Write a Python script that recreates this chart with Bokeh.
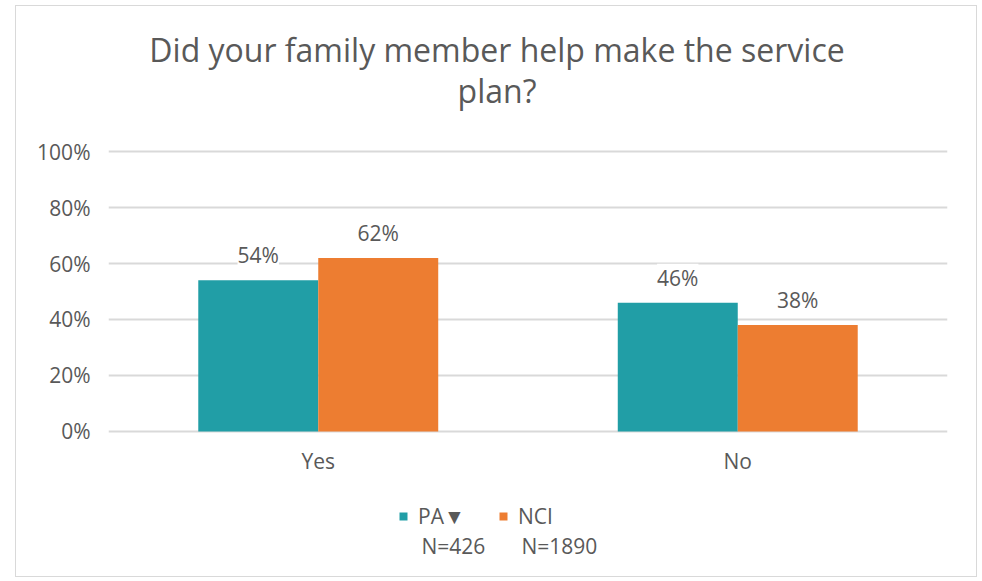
from bokeh.plotting import figure
from bokeh.models import (ColumnDataSource, LabelSet, Label, Legend, LegendItem,
                          NumeralTickFormatter, FactorRange, Range1d)
from bokeh.core.properties import value
from bokeh.transform import dodge
from bokeh.embed import file_html
from bokeh.resources import INLINE

categories = ["Yes", "No"]
pa_values = [0.54, 0.46]
nci_values = [0.62, 0.38]
series_names = ["PA\u25bc", "NCI"]
series_n = ["N=426", "N=1890"]
title_lines = ["Did your family member help make the service", "plan?"]
y_ticks = [0, 0.2, 0.4, 0.6, 0.8, 1.0]

TEXT = "#595959"
GRID = "#d9d9d9"
FONT = "Open Sans"
PA_COLOR = "#219EA6"
NCI_COLOR = "#ED7D31"
FS = "21px"

src = ColumnDataSource(dict(
    cat=categories,
    pa=pa_values,
    nci=nci_values,
    zero=[0] * len(categories),
    pa_txt=[f"{round(v*100)}%" for v in pa_values],
    nci_txt=[f"{round(v*100)}%" for v in nci_values],
))

# frame spans the whole chart area; 0..100% occupies 280 px of it
p = figure(x_range=FactorRange(*categories), y_range=Range1d(-0.5179, 1.5179),
           frame_width=839, frame_height=570, output_backend="svg", toolbar_location=None,
           min_border_left=92, min_border_right=29, min_border_top=0, min_border_bottom=0)
p.title.visible = False
p.xaxis.visible = False

for txt, y in zip(title_lines, (527, 486)):
    p.add_layout(Label(x=388.5, y=y, x_units="screen", y_units="screen", text=txt,
                       text_align="center", text_baseline="alphabetic",
                       text_font=FONT, text_font_size="32px", text_color=TEXT))

bw = 0.286
r1 = p.vbar(x=dodge("cat", -bw / 2, range=p.x_range), top="pa", width=bw, source=src,
            fill_color=PA_COLOR, line_color=None)
r2 = p.vbar(x=dodge("cat", bw / 2, range=p.x_range), top="nci", width=bw, source=src,
            fill_color=NCI_COLOR, line_color=None)

for col, txt, off in (("pa", "pa_txt", -bw / 2), ("nci", "nci_txt", bw / 2)):
    p.add_layout(LabelSet(x=dodge("cat", off, range=p.x_range), y=col, text=txt, source=src,
                          text_align="center", text_baseline="alphabetic", y_offset=17,
                          text_font=value(FONT), text_font_size=value(FS), text_color=TEXT,
                          background_fill_color="white", border_line_color=None))

# category labels under the baseline
p.add_layout(LabelSet(x="cat", y="zero", text="cat", source=src,
                      text_align="center", text_baseline="alphabetic", y_offset=-38,
                      text_font=value(FONT), text_font_size=value(FS), text_color=TEXT))

p.yaxis.ticker = y_ticks
p.yaxis.formatter = NumeralTickFormatter(format="0%")
p.yaxis.axis_line_color = None
p.yaxis.major_tick_line_color = None
p.yaxis.minor_tick_line_color = None
p.yaxis.major_label_standoff = 18
p.yaxis.major_tick_out = 0
p.yaxis.major_tick_in = 0
p.yaxis.major_label_text_font = FONT
p.yaxis.major_label_text_font_size = FS
p.yaxis.major_label_text_color = TEXT

p.xgrid.grid_line_color = None
p.ygrid.ticker = y_ticks
p.ygrid.grid_line_color = GRID
p.ygrid.grid_line_width = 2
p.outline_line_color = None
p.styles = {"border": "1px solid #d9d9d9", "margin-left": "15px", "margin-top": "5px"}

legend = Legend(items=[LegendItem(label=series_names[0], renderers=[r1]),
                       LegendItem(label=series_names[1], renderers=[r2])],
                orientation="horizontal", location=(290, 46),
                label_text_font=FONT, label_text_font_size=FS, label_text_color=TEXT,
                glyph_width=10, glyph_height=10, spacing=10, label_width=70,
                border_line_color=None, background_fill_alpha=0,
                label_standoff=10, margin=0, padding=0)
p.add_layout(legend, "center")

for txt, x in zip(series_n, (313, 413)):
    p.add_layout(Label(x=x, y=31, x_units="screen", y_units="screen", text=txt,
                       text_align="left", text_baseline="alphabetic",
                       text_font=FONT, text_font_size=FS, text_color=TEXT))

open("out.html", "w").write(file_html(p, INLINE))
